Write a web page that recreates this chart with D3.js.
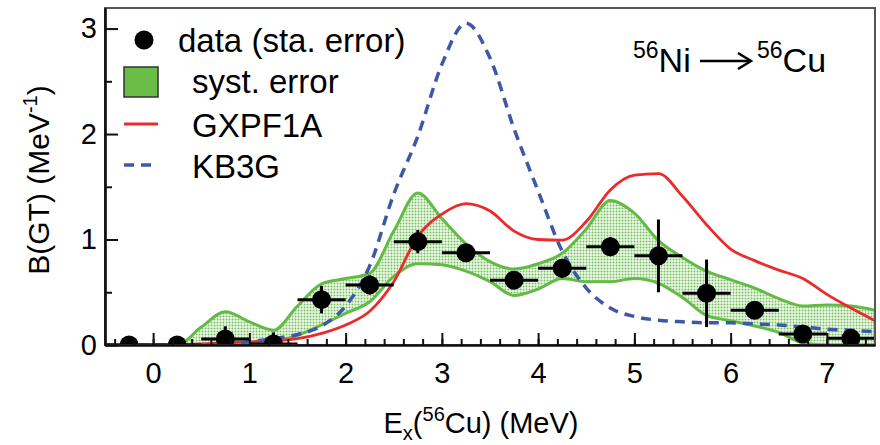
<!DOCTYPE html>
<html>
<head>
<meta charset="utf-8">
<script src="https://cdn.jsdelivr.net/npm/d3@7"></script>
<style>
  body { margin: 0; background: #fff; }
  svg { font-family: "Liberation Sans", Arial, Helvetica, sans-serif; }
</style>
</head>
<body>
<div id="chart"></div>
<script>
// measured points (bin centres, 0.5 MeV bins)
var dataE   = [-0.25, 0.25, 0.75, 1.25, 1.75, 2.25, 2.75, 3.25, 3.75, 4.25, 4.75, 5.25, 5.75, 6.25, 6.75, 7.25];
var dataB   = [0.0, 0.0, 0.057, 0.01, 0.43, 0.57, 0.98, 0.875, 0.615, 0.727, 0.932, 0.845, 0.49, 0.33, 0.104, 0.063];
var dataErr = [0.01, 0.01, 0.12, 0.11, 0.13, 0.09, 0.11, 0.06, 0.04, 0.09, 0.09, 0.345, 0.32, 0.04, 0.03, 0.03];
var binHalf = 0.25;

// grid for the smooth curves
var curveE = [-0.5, -0.25, 0, 0.25, 0.5, 0.75, 1, 1.25, 1.5, 1.75, 2, 2.25, 2.5, 2.75, 3, 3.25, 3.5,
              3.75, 4, 4.25, 4.5, 4.75, 5, 5.25, 5.5, 5.75, 6, 6.25, 6.5, 6.75, 7, 7.25, 7.5];
var systHi = [0, 0, 0, 0, 0.17, 0.315, 0.22, 0.14, 0.37, 0.58, 0.63, 0.68, 1.08, 1.44, 1.2, 0.96, 0.79,
              0.72, 0.77, 0.87, 1.10, 1.37, 1.25, 0.99, 0.83, 0.70, 0.62, 0.54, 0.44, 0.37, 0.38, 0.37, 0.33];
var systLo = [0, 0, 0, 0, 0, 0, 0, 0.03, 0.09, 0.19, 0.30, 0.41, 0.65, 0.77, 0.76, 0.70, 0.60,
              0.47, 0.53, 0.63, 0.60, 0.60, 0.63, 0.585, 0.45, 0.28, 0.23, 0.18, 0.12, 0.02, 0, 0, 0];
var gxpf1a = [0, 0, 0, 0.005, 0.01, 0.02, 0.03, 0.04, 0.06, 0.11, 0.19, 0.32, 0.60, 1.03, 1.24, 1.34, 1.27,
              1.08, 1.0, 0.995, 1.17, 1.47, 1.61, 1.625, 1.41, 1.14, 0.91, 0.80, 0.71, 0.63, 0.48, 0.35, 0.23];
var kb3g   = [0, 0, 0, 0, 0, 0.01, 0.03, 0.06, 0.10, 0.18, 0.37, 0.75, 1.43, 1.98, 2.66, 3.05, 2.72,
              2.05, 1.46, 0.89, 0.54, 0.35, 0.27, 0.235, 0.22, 0.21, 0.21, 0.20, 0.19, 0.17, 0.15, 0.14, 0.125];

var xMajor = [0, 1, 2, 3, 4, 5, 6, 7];
var yMajor = [0, 1, 2, 3];
var legendLabels = ["data (sta. error)", "syst. error", "GXPF1A", "KB3G"];

var W = 880, H = 445;
var frame = {left: 105, right: 875, top: 8, bottom: 345};

var green = "#64ba46", red = "#ec2a2c", blue = "#3e58a8";

var svg = d3.select("#chart").append("svg")
    .attr("width", W).attr("height", H);

var x = d3.scaleLinear().domain([-0.5, 7.5]).range([frame.left, frame.right]);
var y = d3.scaleLinear().domain([0, 3.195]).range([frame.bottom, frame.top]);

var defs = svg.append("defs");
defs.append("clipPath").attr("id", "plotclip")
  .append("rect")
    .attr("x", frame.left).attr("y", frame.top)
    .attr("width", frame.right - frame.left).attr("height", frame.bottom - frame.top);

// dotted fill for the systematic band
var pat = defs.append("pattern").attr("id", "dots")
    .attr("patternUnits", "userSpaceOnUse").attr("width", 3).attr("height", 3);
pat.append("rect").attr("width", 3).attr("height", 3).attr("fill", "#eef7ea");
pat.append("circle").attr("cx", 1.5).attr("cy", 1.5).attr("r", 0.95).attr("fill", "#73c25a");

var plot = svg.append("g").attr("clip-path", "url(#plotclip)");

var band = d3.area()
    .x(function(d, i) { return x(curveE[i]); })
    .y0(function(d, i) { return y(systLo[i]); })
    .y1(function(d, i) { return y(systHi[i]); })
    .curve(d3.curveMonotoneX);

plot.append("path")
    .attr("d", band(curveE))
    .attr("fill", "url(#dots)")
    .attr("stroke", green).attr("stroke-width", 3)
    .attr("stroke-linejoin", "round");

function curveLine(vals) {
  return d3.line()
    .x(function(d, i) { return x(curveE[i]); })
    .y(function(d) { return y(d); })
    .curve(d3.curveMonotoneX)(vals);
}

plot.append("path")
    .attr("d", curveLine(gxpf1a))
    .attr("fill", "none").attr("stroke", red).attr("stroke-width", 2.8);

plot.append("path")
    .attr("d", curveLine(kb3g))
    .attr("fill", "none").attr("stroke", blue).attr("stroke-width", 3.5)
    .attr("stroke-dasharray", "10,7");

// data points with error bars
var pts = plot.selectAll("g.pt").data(dataE).enter().append("g").attr("class", "pt");
pts.append("line")
    .attr("x1", function(d) { return x(d - binHalf); })
    .attr("x2", function(d) { return x(d + binHalf); })
    .attr("y1", function(d, i) { return y(dataB[i]); })
    .attr("y2", function(d, i) { return y(dataB[i]); })
    .attr("stroke", "#000").attr("stroke-width", 3);
pts.append("line")
    .attr("x1", function(d) { return x(d); })
    .attr("x2", function(d) { return x(d); })
    .attr("y1", function(d, i) { return y(dataB[i] - dataErr[i]); })
    .attr("y2", function(d, i) { return y(dataB[i] + dataErr[i]); })
    .attr("stroke", "#000").attr("stroke-width", 3);
pts.append("circle")
    .attr("cx", function(d) { return x(d); })
    .attr("cy", function(d, i) { return y(dataB[i]); })
    .attr("r", 9.5).attr("fill", "#000");

// frame
svg.append("rect")
    .attr("x", frame.left).attr("y", frame.top)
    .attr("width", frame.right - frame.left).attr("height", frame.bottom - frame.top)
    .attr("fill", "none").attr("stroke", "#555").attr("stroke-width", 2);

// axes: ticks point inward
var xMinor = svg.append("g").attr("transform", "translate(0," + frame.bottom + ")")
    .call(d3.axisBottom(x).ticks(32).tickSize(-6).tickSizeOuter(0).tickFormat(""));
var xAxis = svg.append("g").attr("transform", "translate(0," + frame.bottom + ")")
    .call(d3.axisBottom(x).tickValues(xMajor).tickSize(-12).tickSizeOuter(0).tickPadding(17)
      .tickFormat(d3.format("d")));
var yMinor = svg.append("g").attr("transform", "translate(" + frame.left + ",0)")
    .call(d3.axisLeft(y).tickValues([0.5, 1.5, 2.5]).tickSize(-7).tickSizeOuter(0).tickFormat(""));
var yAxis = svg.append("g").attr("transform", "translate(" + frame.left + ",0)")
    .call(d3.axisLeft(y).tickValues(yMajor).tickSize(-13).tickSizeOuter(0).tickPadding(8)
      .tickFormat(d3.format("d")));

[xMinor, xAxis, yMinor, yAxis].forEach(function(g) {
  g.selectAll(".domain").attr("stroke", "#111").attr("stroke-width", 2.2);
  g.selectAll(".tick line").attr("stroke", "#111").attr("stroke-width", 2);
});
xAxis.selectAll("text").attr("font-size", 29).attr("fill", "#000")
    .style("font-family", "Liberation Sans, Arial, sans-serif");
yAxis.selectAll("text").attr("font-size", 29).attr("fill", "#000")
    .style("font-family", "Liberation Sans, Arial, sans-serif");

// axis titles
var xt = svg.append("text").attr("x", 481).attr("y", 433)
    .attr("text-anchor", "middle").attr("font-size", 29);
xt.append("tspan").text("E");
xt.append("tspan").attr("font-size", 20).attr("dy", 7).text("x");
xt.append("tspan").attr("dy", -7).text("(");
xt.append("tspan").attr("font-size", 20).attr("dy", -12).text("56");
xt.append("tspan").attr("dy", 12).text("Cu) (MeV)");

var yt = svg.append("text")
    .attr("transform", "translate(49,180) rotate(-90)")
    .attr("text-anchor", "middle").attr("font-size", 30);
yt.append("tspan").text("B(GT) (MeV");
yt.append("tspan").attr("font-size", 20).attr("dy", -12).text("-1");
yt.append("tspan").attr("dy", 12).text(")");

// reaction label
var rl = svg.append("text").attr("x", 633).attr("y", 72).attr("font-size", 34);
rl.append("tspan").attr("font-size", 23).attr("dy", -14).text("56");
rl.append("tspan").attr("dy", 14).text("Ni");
var rl2 = svg.append("text").attr("x", 757).attr("y", 72).attr("font-size", 34);
rl2.append("tspan").attr("font-size", 23).attr("dy", -14).text("56");
rl2.append("tspan").attr("dy", 14).text("Cu");
svg.append("line").attr("x1", 700).attr("x2", 750).attr("y1", 61).attr("y2", 61)
    .attr("stroke", "#000").attr("stroke-width", 2.5);
svg.append("path").attr("d", "M738,53 L751,61 L738,69")
    .attr("fill", "none").attr("stroke", "#000").attr("stroke-width", 2.5);

// legend
var lg = svg.append("g").attr("font-size", 33);
lg.append("circle").attr("cx", 144).attr("cy", 40).attr("r", 9.5).attr("fill", "#000");
lg.append("text").attr("x", 178).attr("y", 52).text(legendLabels[0]);
lg.append("rect").attr("x", 124).attr("y", 67).attr("width", 34).attr("height", 30)
    .attr("fill", "#6abd47").attr("stroke", "#333").attr("stroke-width", 1.5);
lg.append("text").attr("x", 192).attr("y", 93).text(legendLabels[1]);
lg.append("line").attr("x1", 124).attr("x2", 158).attr("y1", 124).attr("y2", 124)
    .attr("stroke", red).attr("stroke-width", 3);
lg.append("text").attr("x", 192).attr("y", 137).text(legendLabels[2]);
lg.append("line").attr("x1", 124).attr("x2", 158).attr("y1", 165).attr("y2", 165)
    .attr("stroke", blue).attr("stroke-width", 3.5).attr("stroke-dasharray", "10,7");
lg.append("text").attr("x", 192).attr("y", 178).text(legendLabels[3]);
</script>
</body>
</html>
